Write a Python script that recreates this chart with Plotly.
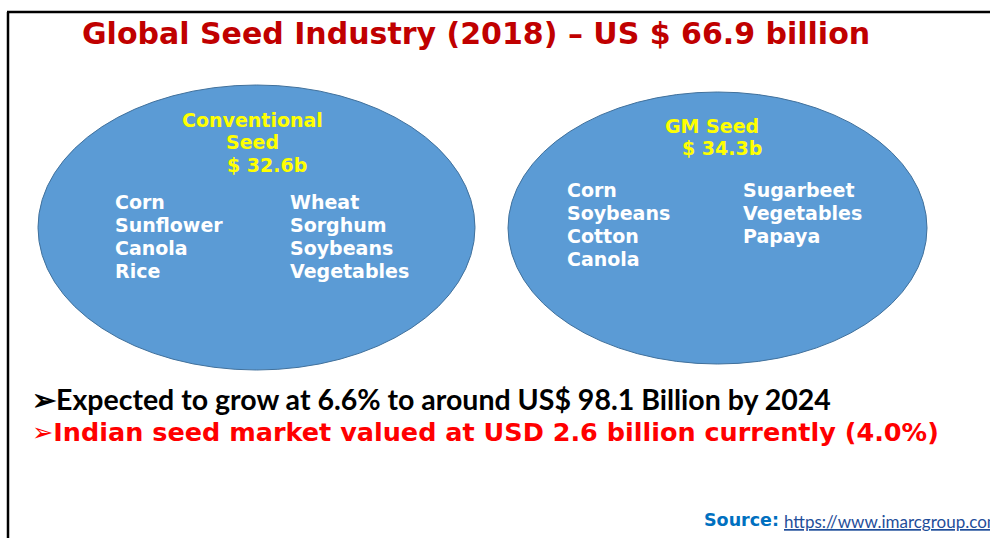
import plotly.graph_objects as go

# ---------------- data ----------------
title_text = "Global Seed Industry (2018) – US $ 66.9 billion"
segment_names = ["Conventional", "GM Seed"]
segment_sub = ["Seed", ""]
segment_values = [32.6, 34.3]
conv_crops_left = ["Corn", "Sunflower", "Canola", "Rice"]
conv_crops_right = ["Wheat", "Sorghum", "Soybeans", "Vegetables"]
gm_crops_left = ["Corn", "Soybeans", "Cotton", "Canola"]
gm_crops_right = ["Sugarbeet", "Vegetables", "Papaya"]
bullet_1 = "Expected to grow at 6.6% to around US$ 98.1 Billion by 2024"
bullet_2 = "Indian seed market valued at USD 2.6 billion currently (4.0%)"
source_label = "Source:"
source_url = "https://www.imarcgroup.com"

# ---------------- layout constants ----------------
W, H = 990, 538
BOLD = "DejaVu Sans"
ELL_FILL = "#5B9BD5"
ELL_LINE = "#41719C"
YELLOW = "#FFFF00"

fig = go.Figure()
fig.add_trace(go.Scatter(x=[0, W], y=[0, H], mode="markers",
                         marker=dict(opacity=0), hoverinfo="skip", showlegend=False))

shapes = []
# frame lines
shapes.append(dict(type="line", x0=7, x1=W, y0=12, y1=12, line=dict(color="black", width=2.5)))
shapes.append(dict(type="line", x0=8, x1=8, y0=12, y1=H, line=dict(color="black", width=2.5)))
# ellipses
ellipses = [dict(x0=38, x1=475, y0=85, y1=370), dict(x0=508, x1=927, y0=92, y1=364)]
for e in ellipses:
    shapes.append(dict(type="circle", layer="below", fillcolor=ELL_FILL,
                       line=dict(color=ELL_LINE, width=1), **e))

ann = []
def txt(x, y, s, size, color, family=BOLD, xanchor="left", bold=True):
    ann.append(dict(x=x, y=y, xref="x", yref="y", text=(f"<b>{s}</b>" if bold else s),
                    showarrow=False, xanchor=xanchor, yanchor="middle",
                    font=dict(family=family, size=size, color=color)))

# title
txt(80, 33, title_text, 30, "#C00000")

# conventional ellipse header
txt(252, 120, segment_names[0], 19, YELLOW, xanchor="center")
txt(252, 142, segment_sub[0], 19, YELLOW, xanchor="center")
txt(225, 165, f"$ {segment_values[0]}b", 19, YELLOW)
for i, c in enumerate(conv_crops_left):
    txt(113, 202 + 23 * i, c, 19, "white")
for i, c in enumerate(conv_crops_right):
    txt(288, 202 + 23 * i, c, 19, "white")

# GM ellipse header
txt(663, 126, segment_names[1], 19, YELLOW)
txt(680, 148, f"$ {segment_values[1]}b", 19, YELLOW)
for i, c in enumerate(gm_crops_left):
    txt(565, 190 + 23 * i, c, 19, "white")
for i, c in enumerate(gm_crops_right):
    txt(741, 190 + 23 * i, c, 19, "white")

# bullets
txt(30, 399, "➢" + bullet_1, 28.5, "black", family="Lato")
txt(30, 432, "➢" + bullet_2, 25.5, "#FF0000")

# source
txt(702, 520, source_label, 17.5, "#0070C0")
txt(782, 521, f"<u>{source_url}</u>", 17, "#1F4E9A", family="Lato", bold=False)

fig.update_layout(
    width=W, height=H, margin=dict(l=0, r=0, t=0, b=0),
    paper_bgcolor="white", plot_bgcolor="white",
    xaxis=dict(range=[0, W], visible=False, fixedrange=True),
    yaxis=dict(range=[H, 0], visible=False, fixedrange=True),
    shapes=shapes, annotations=ann, showlegend=False,
)
fig.write_html("out.html", config={"displayModeBar": False})
